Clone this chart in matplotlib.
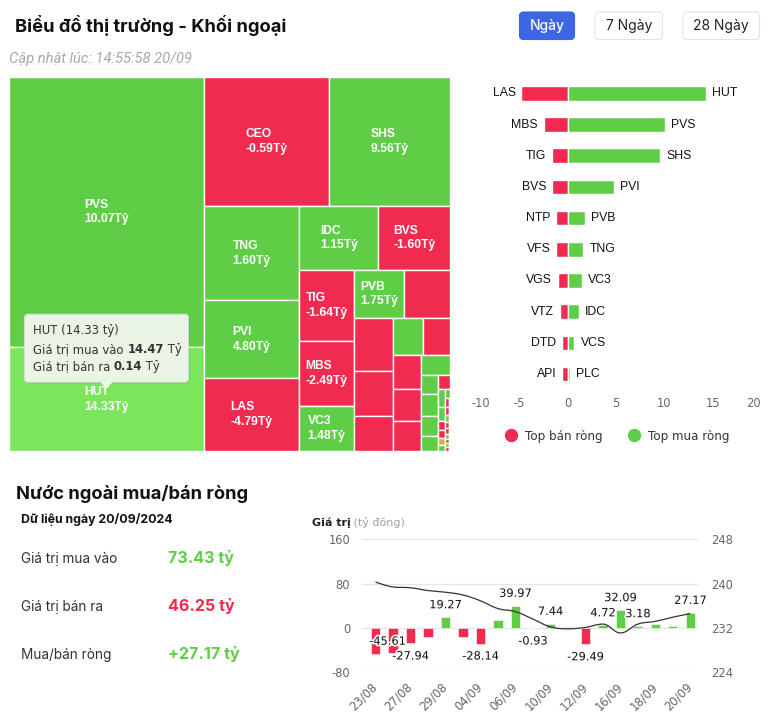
import math
import numpy as np
import matplotlib
matplotlib.use('Agg')
import matplotlib.pyplot as plt
from matplotlib.patches import Rectangle, FancyBboxPatch, Polygon, PathPatch
from matplotlib.path import Path
from matplotlib.lines import Line2D
import matplotlib.patheffects as pe

plt.rcParams['axes.unicode_minus'] = False

# Mau sac
XANH = '#5fce46'
XANH_SANG = '#7be55b'
DO = '#f12a50'
VANG = '#d8b22a'

# ---- Treemap: ma CK, tong gia tri giao dich khoi ngoai (ty), mua/ban rong (ty)
tm_ma = ['PVS', 'HUT', 'CEO', 'SHS', 'TNG', 'PVI', 'LAS', 'IDC', 'BVS', 'TIG',
         'MBS', 'VC3', 'PVB', 'NTP', 'VFS', 'VGS', 'VTZ', 'VCS', 'DTD', 'API',
         '', '', 'PLC', '', '', '', '', '',
         '', '', '', '', '', '', '', '', '', '', '', '', '', '', '', '', '', '', '', '']
tm_gtgd = [38.17, 14.61, 11.75, 11.32, 6.47, 5.39, 5.01, 3.62, 3.28, 2.82,
           2.57, 1.79, 1.77, 1.60, 1.46, 1.26, 0.98, 0.80, 0.72, 0.70,
           0.67, 0.61, 0.42, 0.24, 0.27, 0.25, 0.18, 0.12,
           0.094, 0.073, 0.051, 0.040, 0.036, 0.032, 0.029, 0.025, 0.022, 0.020,
           0.018, 0.016, 0.014, 0.012, 0.011, 0.010, 0.009, 0.008, 0.007, 0.006]
tm_rong = [10.07, 14.33, -0.59, 9.56, 1.60, 4.80, -4.79, 1.15, -1.60, -1.64,
           -2.49, 1.48, 1.75, -1.21, -1.20, -1.03, -0.80, 0.68, -0.62, -0.60,
           -0.35, -0.21, 0.22, 0.10, 0.12, 0.09, 0.05, -0.06,
           0.04, 0.03, -0.02, -0.02, 0.0, 0.02, 0.01, -0.01, -0.01, 0.01,
           -0.01, -0.01, 0.01, -0.01, 0.01, -0.01, 0.01, 0.01, -0.01, 0.01]
ma_chon = 'HUT'
hut_mua, hut_ban = 14.47, 0.14

# ---- Top mua/ban rong
ban_ma = ['LAS', 'MBS', 'TIG', 'BVS', 'NTP', 'VFS', 'VGS', 'VTZ', 'DTD', 'API']
ban_rong = [-4.79, -2.49, -1.64, -1.60, -1.21, -1.20, -1.03, -0.80, -0.62, -0.60]
mua_ma = ['HUT', 'PVS', 'SHS', 'PVI', 'PVB', 'TNG', 'VC3', 'IDC', 'VCS', 'PLC']
mua_rong = [14.33, 10.07, 9.56, 4.80, 1.75, 1.60, 1.48, 1.15, 0.68, 0.22]

# ---- Nuoc ngoai mua/ban rong theo ngay
ngay = ['23/08', '26/08', '27/08', '28/08', '29/08', '30/08', '04/09', '05/09',
        '06/09', '09/09', '10/09', '11/09', '12/09', '13/09', '16/09', '17/09',
        '18/09', '19/09', '20/09']
rong_ngay = [-46.3, -45.61, -27.94, -17.2, 19.27, -16.6, -28.14, 15.2, 39.97,
             -0.93, 7.44, 1.0, -29.49, 4.72, 32.09, 3.18, 6.5, 3.0, 27.17]
chi_so = [240.3, 239.4, 239.25, 238.75, 238.45, 237.95, 236.9, 235.5, 234.95,
          233.6, 232.2, 231.85, 232.1, 232.7, 231.1, 232.7, 233.2, 233.95, 234.6]
an_nhan = {0, 3, 5, 7, 11, 16, 17}

tom_tat = [('Giá trị mua vào', '73.43 tỷ', XANH),
           ('Giá trị bán ra', '46.25 tỷ', DO),
           ('Mua/bán ròng', '+27.17 tỷ', XANH)]


# Treemap squarified (kieu Highcharts, doi huong moi dai)
def chia(a, b):
    return a / b if b else math.inf


def ti_le(a, b):
    return max(chia(a, b), chia(b, a))


class Nhom:
    def __init__(self, w, h):
        self.w, self.h, self.d = w, h, 0
        self.nW = self.lW = self.nH = self.lH = 0.0
        self.el, self.total = [], 0.0
        self.lR = self.nR = math.nan

    def them(self, p):
        cuoi = self.el[-1] if self.el else None
        self.total += p
        if self.d == 0:
            self.lW = self.nW
            self.nW = self.total / self.h
            if cuoi is not None:
                self.lR = ti_le(self.lW, chia(cuoi, self.lW))
                self.nR = ti_le(self.nW, cuoi / self.nW)
        else:
            self.lH = self.nH
            self.nH = self.total / self.w
            if cuoi is not None:
                self.lR = ti_le(chia(cuoi, self.lH), self.lH)
                self.nR = ti_le(cuoi / self.nH, self.nH)
        if cuoi is None:
            self.lR = self.nR = math.nan
        self.el.append(p)


def bo_cuc(sizes, x0, y0, W, H):
    tong = sum(sizes)
    g = Nhom(W, H)
    pos = [x0, y0]
    out = []

    def xa(het):
        if het:
            gW, gH, keep, items = g.nW, g.nH, None, g.el
        else:
            gW, gH, keep, items = g.lW, g.lH, g.el[-1], g.el[:-1]
        for p in items:
            if g.d == 0:
                out.append((pos[0], pos[1], gW, p / gW))
                pos[1] += p / gW
            else:
                out.append((pos[0], pos[1], p / gH, gH))
                pos[0] += p / gH
        g.nW = g.lW = 0.0
        g.el, g.total = [], 0.0
        if g.d == 0:
            g.w -= gW
        else:
            g.h -= gH
        pos[0] = x0 + (W - g.w)
        pos[1] = y0 + (H - g.h)
        g.d = 1 - g.d
        if keep is not None:
            g.them(keep)

    for i, s in enumerate(sizes):
        g.them(W * H * s / tong)
        if g.nR > g.lR:
            xa(False)
        if i == len(sizes) - 1:
            xa(True)
    return out


def spline(xs, ys, s=1.5):
    n = len(xs)
    lc = list(zip(xs, ys))
    rc = list(zip(xs, ys))
    for i in range(1, n - 1):
        px, py = xs[i], ys[i]
        ax_, ay_ = xs[i - 1], ys[i - 1]
        bx_, by_ = xs[i + 1], ys[i + 1]
        lcx, lcy = (s * px + ax_) / (s + 1), (s * py + ay_) / (s + 1)
        rcx, rcy = (s * px + bx_) / (s + 1), (s * py + by_) / (s + 1)
        if rcx != lcx:
            corr = (rcy - lcy) * (rcx - px) / (rcx - lcx) + py - rcy
            lcy += corr
            rcy += corr
            if lcy > ay_ and lcy > py:
                lcy = max(ay_, py); rcy = 2 * py - lcy
            elif lcy < ay_ and lcy < py:
                lcy = min(ay_, py); rcy = 2 * py - lcy
            if rcy > by_ and rcy > py:
                rcy = max(by_, py); lcy = 2 * py - rcy
            elif rcy < by_ and rcy < py:
                rcy = min(by_, py); lcy = 2 * py - rcy
        lc[i] = (lcx, lcy)
        rc[i] = (rcx, rcy)
    verts = [(xs[0], ys[0])]
    codes = [Path.MOVETO]
    for i in range(1, n):
        verts += [rc[i - 1], lc[i], (xs[i], ys[i])]
        codes += [Path.CURVE4] * 3
    return Path(verts, codes)


fig = plt.figure(figsize=(7.71, 7.18), dpi=100)
fig.patch.set_facecolor('white')
rd = fig.canvas.get_renderer()


def truc_px(x, y, w, h):
    return fig.add_axes([x / 771, 1 - (y + h) / 718, w / 771, h / 718])


def viet_noi(ax, x, y, phan, **kw):
    # viet nhieu doan chu lien nhau (truc tinh theo pixel)
    for chu, them in phan:
        t = ax.text(x, y, chu, **kw, **them)
        x += t.get_window_extent(renderer=rd).width
    return x


nen = truc_px(0, 0, 771, 718)
nen.set_xlim(0, 771)
nen.set_ylim(718, 0)
nen.axis('off')

# ---- Tieu de
nen.text(15, 26, 'Biểu đồ thị trường - Khối ngoại', fontsize=13.2, fontweight='bold',
         family='Inter', va='center', color='#111111')
nen.text(9, 59, 'Cập nhật lúc: 14:55:58 20/09', fontsize=10.6, style='italic',
         family='Roboto', color='#a8a8a8', va='center')
nut = [('Ngày', 519.5, 574.5, True), ('7 Ngày', 595, 662.5, False), ('28 Ngày', 683, 759.5, False)]
for chu, a, b, chon in nut:
    nen.add_patch(FancyBboxPatch((a, 12), b - a, 27.5, boxstyle='round,pad=0,rounding_size=4',
                                 facecolor='#3d66e4' if chon else 'white',
                                 edgecolor='#3d66e4' if chon else '#e2e2e2', lw=0.8))
    nen.text((a + b) / 2, 26, chu, ha='center', va='center', family='Inter', fontsize=10,
             color='white' if chon else '#222222', fontweight='medium' if chon else 'normal')

# ---- Treemap
TM_X, TM_Y, TM_W, TM_H = 9, 76.7, 441, 374.3
ax_tm = truc_px(TM_X, TM_Y, TM_W, TM_H)
ax_tm.set_xlim(0, TM_W)
ax_tm.set_ylim(TM_H, 0)
ax_tm.axis('off')
o_tm = bo_cuc(tm_gtgd, 0, 0, TM_W, TM_H)
o_chon = None
for (x, y, w, h), ma, rong in zip(o_tm, tm_ma, tm_rong):
    mau = XANH if rong > 0 else DO if rong < 0 else VANG
    if ma == ma_chon:
        mau = XANH_SANG
        o_chon = (x, y, w, h)
    ax_tm.add_patch(Rectangle((x, y), w, h, facecolor=mau, edgecolor='white', lw=1))
    if ma and w >= 48 and h >= 30:
        ax_tm.text(x + w / 2, y + h / 2, f'{ma}\n{rong:.2f}Tỷ', ha='center', va='center',
                   multialignment='left', linespacing=1.3, color='white', fontsize=8.7,
                   fontweight='bold', family='Liberation Sans')

# Tooltip cua o dang chon
cx = o_chon[0] + o_chon[2] / 2
cy = o_chon[1] + o_chon[3] / 2
mui_y = cy - 10.5
bw, bh = 164, 68
bx, by = cx - bw / 2, mui_y - 6.5 - bh
ax_tm.add_patch(FancyBboxPatch((bx + 1.5, by + 1.5), bw, bh, boxstyle='round,pad=0,rounding_size=4',
                               facecolor='black', alpha=0.08, edgecolor='none'))
ax_tm.add_patch(FancyBboxPatch((bx, by), bw, bh, boxstyle='round,pad=0,rounding_size=4',
                               facecolor='#f3f8ef', edgecolor='#d8dcd4', lw=0.8, alpha=0.95))
ax_tm.add_patch(Polygon([(cx - 6.5, by + bh - 0.5), (cx + 6.5, by + bh - 0.5), (cx, mui_y)],
                        closed=True, facecolor='#f3f8ef', edgecolor='none', alpha=0.95))
kt = dict(fontsize=8.4, family='DejaVu Sans', color='#333333', va='center')
rong_chon = tm_rong[tm_ma.index(ma_chon)]
ax_tm.text(bx + 8.5, by + 16, f'{ma_chon} ({rong_chon:.2f} tỷ)', **kt)
for dong, (nhan, gt) in enumerate([('Giá trị mua vào', hut_mua), ('Giá trị bán ra', hut_ban)]):
    viet_noi(ax_tm, bx + 8.5, by + 35 + dong * 17.7,
             [(nhan + ' ', {}), (f'{gt:.2f}', {'fontweight': 'bold'}), (' Tỷ', {})], **kt)

# ---- Top mua/ban rong
ax_b = truc_px(471, 77.7, 290, 312)
yy = np.arange(len(ban_ma))
ax_b.barh(yy, ban_rong, height=0.47, color=DO, edgecolor='white', lw=1)
ax_b.barh(yy, mua_rong, height=0.47, color=XANH, edgecolor='white', lw=1)
ax_b.set_xlim(-10, 20)
ax_b.set_ylim(len(ban_ma) - 0.5, -0.5)
for i in yy:
    ax_b.annotate(ban_ma[i], (ban_rong[i], i), xytext=(-4, 0), textcoords='offset points',
                  ha='right', va='center', fontsize=8.8, family='Liberation Sans', color='#111111')
    ax_b.annotate(mua_ma[i], (mua_rong[i], i), xytext=(4.5, 0), textcoords='offset points',
                  ha='left', va='center', fontsize=8.8, family='Liberation Sans', color='#111111')
ax_b.set_xticks([-10, -5, 0, 5, 10, 15, 20])
ax_b.set_yticks([])
ax_b.tick_params(axis='x', length=0, pad=5.5, labelsize=8.3, labelcolor='#666666')
for sp in ax_b.spines.values():
    sp.set_visible(False)
nhan_x = ax_b.get_xticklabels()
nhan_x[0].set_ha('left')
nhan_x[-1].set_ha('right')
ax_b.legend(handles=[Line2D([], [], marker='o', ls='', color=DO, markersize=8.6, label='Top bán ròng'),
                     Line2D([], [], marker='o', ls='', color=XANH, markersize=8.6, label='Top mua ròng')],
            ncol=2, loc='center', bbox_to_anchor=(614 / 771, 1 - 436 / 718), bbox_transform=fig.transFigure,
            frameon=False, handletextpad=0.2, columnspacing=1.6,
            prop={'family': 'DejaVu Sans', 'size': 8.6}, labelcolor='#333333')

# ---- Khoi ngoai mua/ban rong (trai duoi)
nen.text(16, 494, 'Nước ngoài mua/bán ròng', fontsize=13.2, fontweight='bold', family='Inter',
         va='center', color='#111111')
nen.text(21, 520, 'Dữ liệu ngày 20/09/2024', fontsize=8.9, fontweight='bold', family='Inter',
         va='center', color='#111111')
for k, (nhan, gt, mau) in enumerate(tom_tat):
    yk = 558.5 + k * 48
    nen.text(21, yk, nhan, fontsize=9.8, family='Inter', va='center', color='#333333')
    nen.text(168, yk, gt, fontsize=11.6, fontweight='bold', family='Inter', va='center', color=mau)

# ---- Bieu do gia tri theo ngay
viet_noi(nen, 311.5, 523, [('Giá trị', {'fontweight': 'bold', 'color': '#222222'}),
                           (' (tỷ đồng)', {'color': '#a0a0a0'})],
         fontsize=8, family='DejaVu Sans', va='center')
ax_c = truc_px(361.7, 539.3, 336.6, 133)
xx = np.arange(len(ngay))
ax_c.bar(xx, rong_ngay, width=0.52, color=[XANH if v >= 0 else DO for v in rong_ngay],
         edgecolor='white', lw=0.4, zorder=2)
ax_c.set_xlim(-0.79, 18.45)
ax_c.set_ylim(-80, 160)
ax_c.set_yticks([-80, 0, 80, 160])
ax_c.grid(axis='y', color='#e6e6e6', lw=0.9, zorder=0)
ax_c.set_axisbelow(True)
ax_c.set_xticks(xx[::2])
ax_c.set_xticklabels(ngay[::2], rotation=45, ha='right', va='center', rotation_mode='anchor')
ax_c.tick_params(axis='x', length=0, pad=9, labelsize=8.4, labelcolor='#666666')
ax_c.tick_params(axis='y', length=0, pad=8.4, labelsize=8.3, labelcolor='#666666')
for sp in ax_c.spines.values():
    sp.set_visible(False)
vien = [pe.withStroke(linewidth=2.5, foreground='white')]
for i, v in enumerate(rong_ngay):
    if i in an_nhan:
        continue
    if v >= 0:
        dy = 12
    elif i == 1:
        dy = 11.5  # nhan nam trong cot
    else:
        dy = -13
    ax_c.annotate(f'{v:.2f}', (i, v), xytext=(-4 if i == 1 else 0, dy * 0.72), textcoords='offset points',
                  ha='center', va='center', fontsize=8.2, family='DejaVu Sans', color='#111111',
                  path_effects=vien, zorder=5)

ax2 = ax_c.twinx()
ax2.set_ylim(224, 248)
ax2.set_yticks([224, 232, 240, 248])
ax2.tick_params(axis='y', length=0, pad=8.9, labelsize=8.3, labelcolor='#666666')
for sp in ax2.spines.values():
    sp.set_visible(False)
ax2.add_patch(PathPatch(spline(list(xx.astype(float)), chi_so), facecolor='none',
                        edgecolor='#333333', lw=0.9))

fig.savefig('out.png', dpi=100, facecolor='white')
